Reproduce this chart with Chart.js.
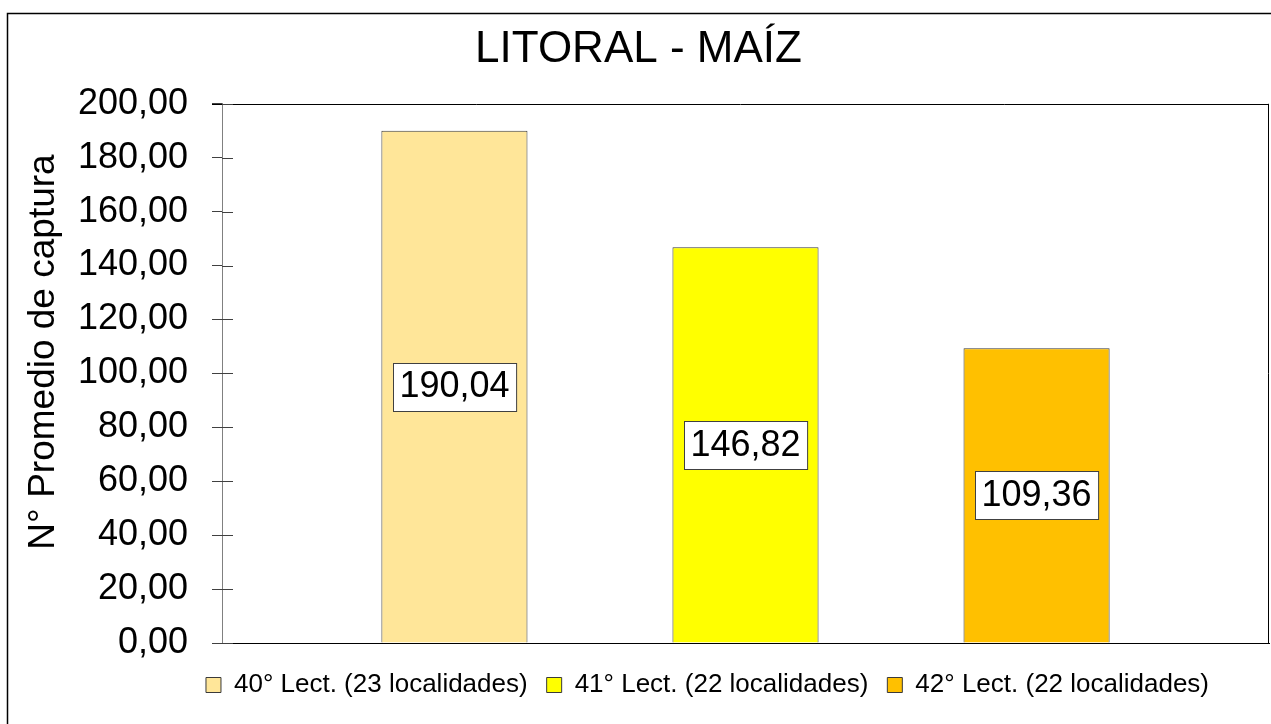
<!DOCTYPE html>
<html>
<head>
<meta charset="utf-8">
<script src="https://cdn.jsdelivr.net/npm/chart.js@4"></script>
<style>
  html, body { margin: 0; padding: 0; background: #fff; }
  #wrap { width: 1271px; height: 724px; }
</style>
</head>
<body>
<div id="wrap"><canvas id="maizChart" width="1271" height="724"></canvas></div>
<script>
const chartTitle = 'LITORAL - MAÍZ';
const yAxisTitle = 'N° Promedio de captura';
const seriesNames = ['40° Lect. (23 localidades)', '41° Lect. (22 localidades)', '42° Lect. (22 localidades)'];
const seriesValues = [190.04, 146.82, 109.36];
const seriesColors = ['#FFE699', '#FFFF00', '#FFC000'];
const yTicks = { min: 0, max: 200, step: 20 };

const FONT = "'Liberation Sans', Arial, sans-serif";

function fmt(v) {
    return v.toFixed(2).replace('.', ',');
}

// white page + outer frame
const framePlugin = {
    id: 'frame',
    beforeDraw(chart) {
        const ctx = chart.ctx;
        ctx.save();
        ctx.fillStyle = '#fff';
        ctx.fillRect(0, 0, chart.width, chart.height);
        ctx.strokeStyle = '#000';
        ctx.lineWidth = 1.5;
        ctx.strokeRect(7.5, 13.5, chart.width + 50, chart.height + 50);
        ctx.restore();
    },
    afterLayout(chart) {
        // legend sits under the plot, not under the whole canvas
        chart.legend.left += 69;
        chart.legend.right += 69;
    },
    afterDraw(chart) {
        const ctx = chart.ctx;
        const a = chart.chartArea;
        const y = chart.scales.y;
        ctx.save();
        // plot box top and right
        ctx.strokeStyle = '#000';
        ctx.lineWidth = 1;
        ctx.beginPath();
        ctx.moveTo(a.left - 10, Math.round(a.top) + 0.5);
        ctx.lineTo(a.right, Math.round(a.top) + 0.5);
        ctx.moveTo(Math.round(a.right) - 0.5, a.top);
        ctx.lineTo(Math.round(a.right) - 0.5, a.bottom);
        ctx.stroke();
        // cross tick marks, inner half
        ctx.strokeStyle = '#404040';
        ctx.beginPath();
        y.ticks.forEach(t => {
            const py = Math.round(y.getPixelForValue(t.value)) + 0.5;
            ctx.moveTo(a.left, py);
            ctx.lineTo(a.left + 11, py);
        });
        ctx.stroke();
        // y axis title
        ctx.translate(44, 352);
        ctx.rotate(-Math.PI / 2);
        ctx.fillStyle = '#000';
        ctx.font = '37px ' + FONT;
        ctx.textAlign = 'center';
        ctx.textBaseline = 'middle';
        ctx.fillText(yAxisTitle, 0, 0);
        ctx.restore();
    }
};

// value boxes in the middle of each bar
const valueLabels = {
    id: 'valueLabels',
    afterDatasetsDraw(chart) {
        const ctx = chart.ctx;
        ctx.save();
        ctx.font = '36px ' + FONT;
        ctx.textAlign = 'center';
        ctx.textBaseline = 'middle';
        chart.data.datasets.forEach((ds, i) => {
            chart.getDatasetMeta(i).data.forEach((bar, j) => {
                const text = fmt(ds.data[j]);
                const cx = bar.x;
                const cy = (bar.y + bar.base) / 2;
                const w = ctx.measureText(text).width + 13;
                const h = 48;
                const x0 = Math.round(cx - w / 2) + 0.5;
                const y0 = Math.round(cy - h / 2) + 0.5;
                ctx.fillStyle = '#fff';
                ctx.fillRect(x0, y0, w, h);
                ctx.strokeStyle = '#404040';
                ctx.lineWidth = 1;
                ctx.strokeRect(x0, y0, w, h);
                ctx.fillStyle = '#000';
                ctx.fillText(text, cx, cy + 1);
            });
        });
        ctx.restore();
    }
};

const datasets = seriesNames.map((name, i) => ({
    label: name,
    data: [seriesValues[i]],
    backgroundColor: seriesColors[i],
    borderColor: '#3a3a3a',
    borderWidth: 1,
    categoryPercentage: 0.834,
    barPercentage: 0.502
}));

new Chart(document.getElementById('maizChart'), {
    type: 'bar',
    data: {
        labels: [''],
        datasets: datasets
    },
    options: {
        responsive: false,
        animation: false,
        layout: {
            padding: { left: 8, top: 14, right: 2, bottom: 16 }
        },
        plugins: {
            title: {
                display: true,
                text: chartTitle,
                color: '#000',
                font: { family: FONT, size: 44, weight: 'normal' },
                padding: { top: 9, bottom: 28 }
            },
            legend: {
                position: 'bottom',
                labels: {
                    color: '#000',
                    font: { family: FONT, size: 26 },
                    boxWidth: 15,
                    boxHeight: 15,
                    padding: 19
                }
            },
            tooltip: { enabled: false }
        },
        scales: {
            x: {
                grid: { display: false },
                ticks: { display: false },
                border: { display: true, color: '#000', width: 1 },
                afterFit(scale) { scale.height = 10; }
            },
            y: {
                min: yTicks.min,
                max: yTicks.max,
                ticks: {
                    stepSize: yTicks.step,
                    color: '#000',
                    font: { family: FONT, size: 36 },
                    padding: 24,
                    callback: v => fmt(v)
                },
                grid: {
                    display: true,
                    drawOnChartArea: false,
                    drawTicks: true,
                    tickLength: 10,
                    color: '#404040'
                },
                border: { display: true, color: '#808080', width: 1 },
                afterFit(scale) { scale.width = 214; }
            }
        }
    },
    plugins: [framePlugin, valueLabels]
});
</script>
</body>
</html>
